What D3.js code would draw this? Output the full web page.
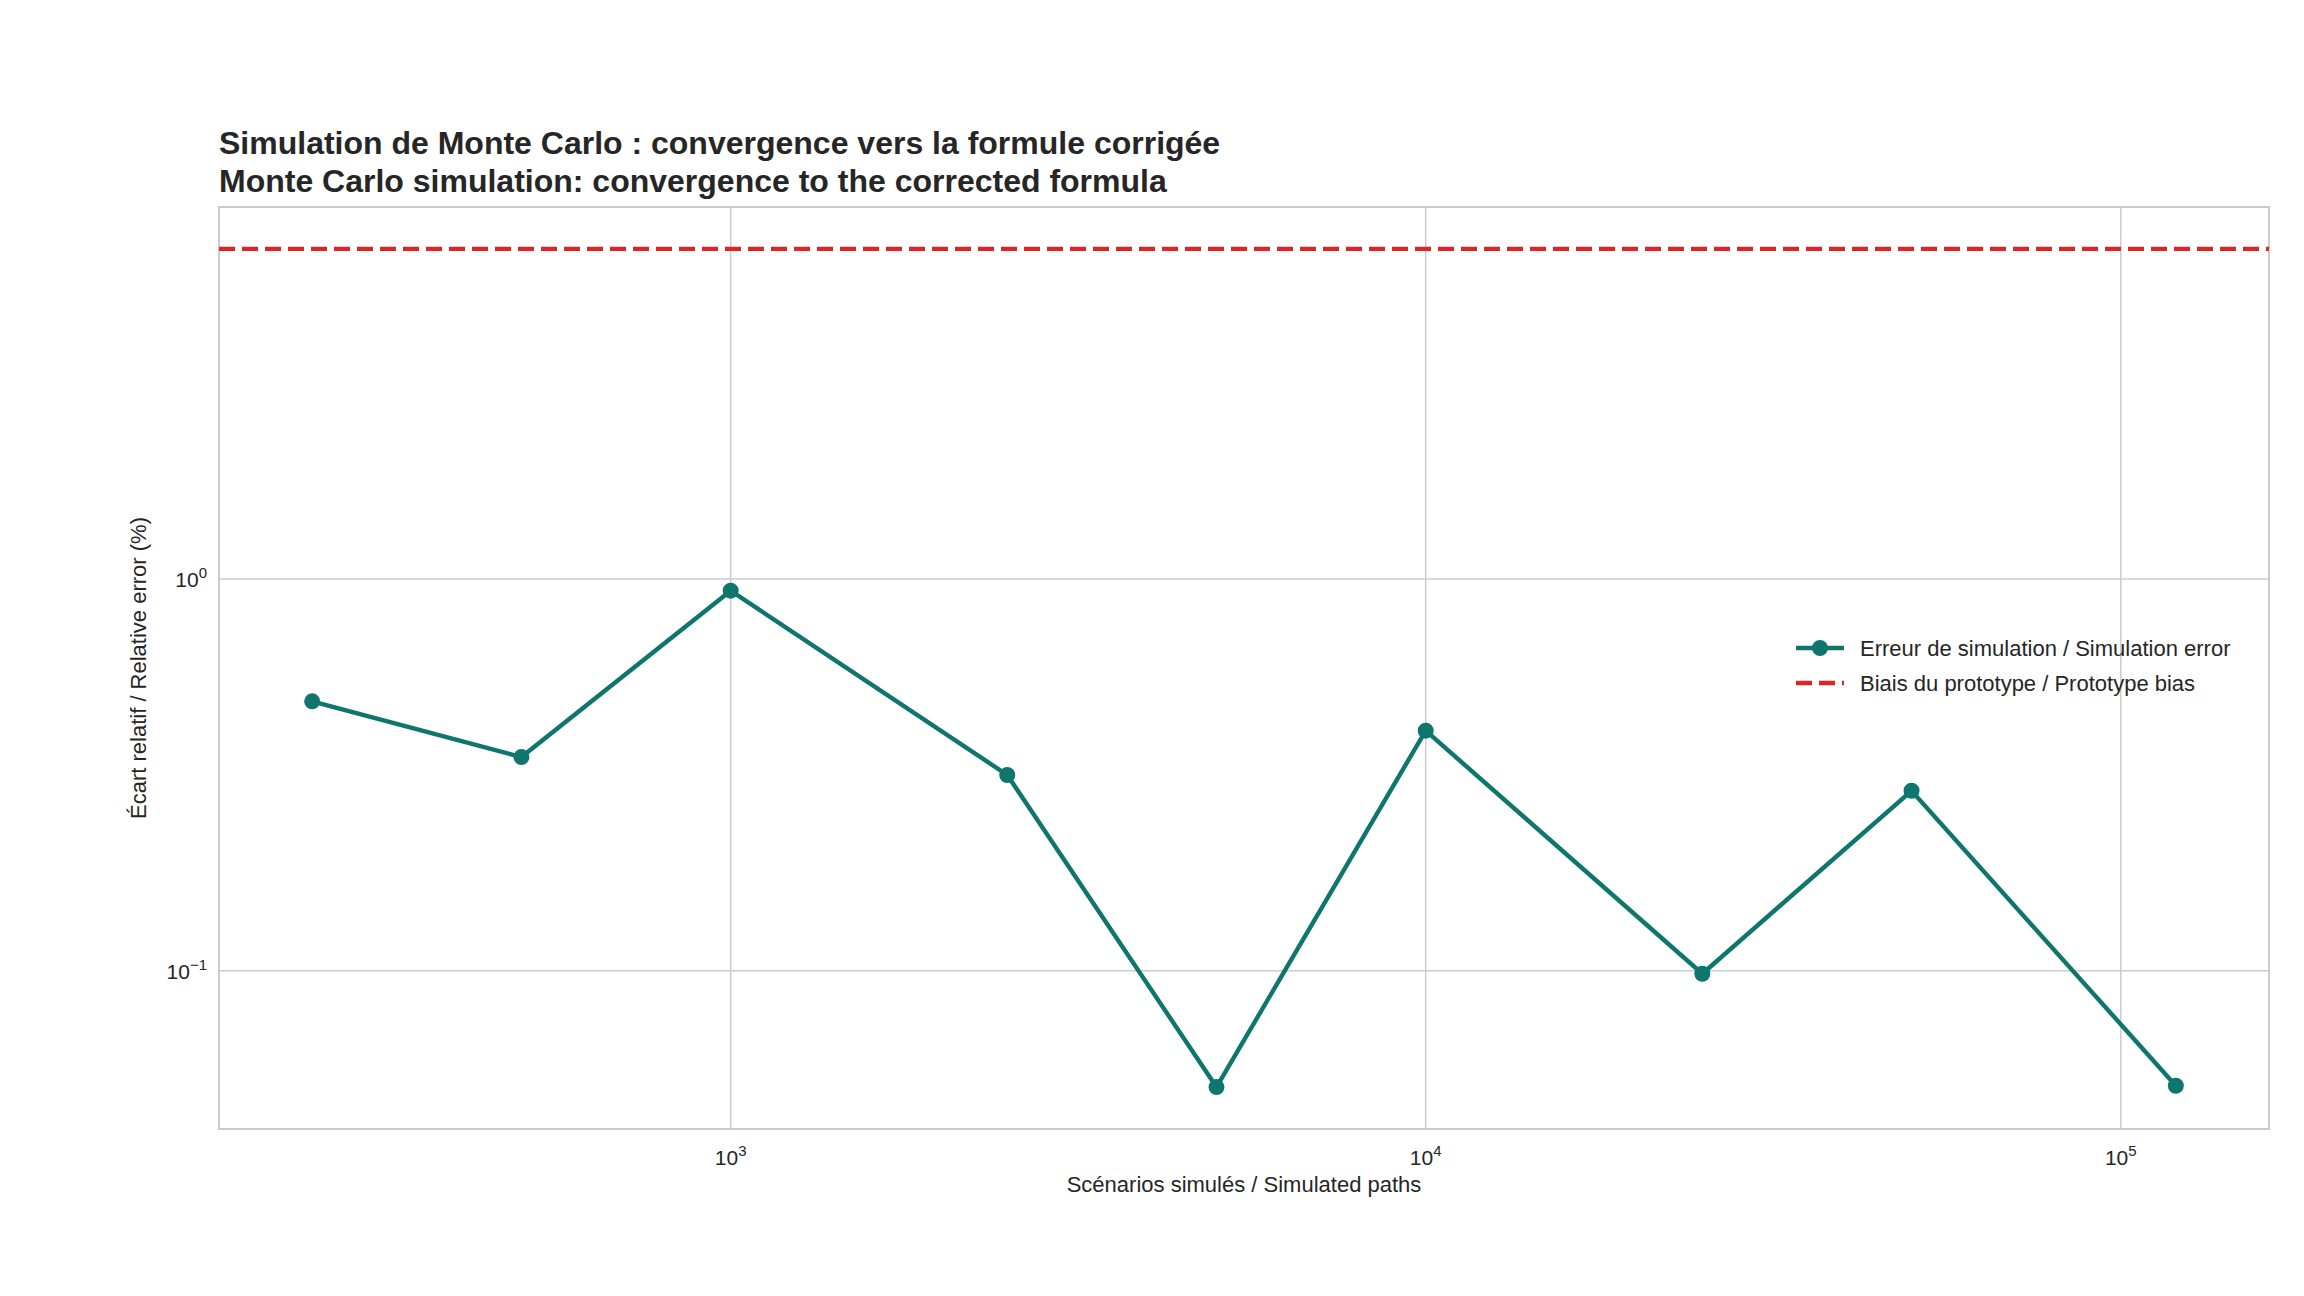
<!DOCTYPE html>
<html>
<head>
<meta charset="utf-8">
<script src="https://cdn.jsdelivr.net/npm/d3@7"></script>
<style>
  body { margin: 0; background: #fff; }
  text { font-family: "Liberation Sans", Arial, sans-serif; fill: #262626; }
</style>
</head>
<body>
<div id="chart"></div>
<script>
// data
var paths = [250, 500, 1000, 2500, 5000, 10000, 25000, 50000, 120000];
var simError = [0.487, 0.351, 0.933, 0.316, 0.0505, 0.410, 0.0983, 0.288, 0.0509];
var prototypeBias = 6.95;
var xTicks = [1e3, 1e4, 1e5];
var yTicks = [1e-1, 1e0];
var legendLabels = ["Erreur de simulation / Simulation error", "Biais du prototype / Prototype bias"];

var W = 2304, H = 1296;
var margin = {top: 207, right: 35, bottom: 167, left: 219};
var width = W - margin.left - margin.right,
    height = H - margin.top - margin.bottom;
var teal = "#0f766e", red = "#dc2626";

var svg = d3.select("#chart").append("svg")
    .attr("width", W).attr("height", H);
var g = svg.append("g")
    .attr("transform", "translate(" + margin.left + "," + margin.top + ")");

// log scales with 5% padding like matplotlib
var lx = d3.extent(paths).map(Math.log10), px = (lx[1] - lx[0]) * 0.05;
var xScale = d3.scaleLog()
    .domain([Math.pow(10, lx[0] - px), Math.pow(10, lx[1] + px)])
    .range([0, width]);
var ly = d3.extent(simError.concat([prototypeBias])).map(Math.log10), py = (ly[1] - ly[0]) * 0.05;
var yScale = d3.scaleLog()
    .domain([Math.pow(10, ly[0] - py), Math.pow(10, ly[1] + py)])
    .range([height, 0]);

//grid
g.selectAll(".gx").data(xTicks).enter().append("line")
    .attr("x1", d => xScale(d)).attr("x2", d => xScale(d))
    .attr("y1", 0).attr("y2", height)
    .attr("stroke", "#cccccc").attr("stroke-width", 1.5);
g.selectAll(".gy").data(yTicks).enter().append("line")
    .attr("y1", d => yScale(d)).attr("y2", d => yScale(d))
    .attr("x1", 0).attr("x2", width)
    .attr("stroke", "#cccccc").attr("stroke-width", 1.5);

// frame
g.append("rect").attr("width", width).attr("height", height)
    .attr("fill", "none").attr("stroke", "#cccccc").attr("stroke-width", 2);

// tick labels with superscript exponents
function pow10(sel, d) {
    var e = Math.round(Math.log10(d));
    sel.append("tspan").text("10");
    sel.append("tspan").attr("dy", -9).attr("font-size", 15)
        .text(e < 0 ? "\u2212" + (-e) : e);
}
g.selectAll(".tx").data(xTicks).enter().append("text")
    .attr("x", d => xScale(d)).attr("y", height + 36)
    .attr("text-anchor", "middle").attr("font-size", 21)
    .each(function (d) { pow10(d3.select(this), d); });
g.selectAll(".ty").data(yTicks).enter().append("text")
    .attr("x", -12).attr("y", d => yScale(d) + 8)
    .attr("text-anchor", "end").attr("font-size", 21)
    .each(function (d) { pow10(d3.select(this), d); });

// bias line
g.append("line")
    .attr("x1", 0).attr("x2", width)
    .attr("y1", yScale(prototypeBias)).attr("y2", yScale(prototypeBias))
    .attr("stroke", red).attr("stroke-width", 4.4)
    .attr("stroke-dasharray", "16,7");

// error line
var line = d3.line().x((d, i) => xScale(paths[i])).y(d => yScale(d));
g.append("path").datum(simError)
    .attr("d", line).attr("fill", "none")
    .attr("stroke", teal).attr("stroke-width", 4.4);
g.selectAll(".pt").data(simError).enter().append("circle")
    .attr("cx", (d, i) => xScale(paths[i])).attr("cy", d => yScale(d))
    .attr("r", 8).attr("fill", teal);

// titles
svg.append("text").attr("x", margin.left).attr("y", 154)
    .attr("font-size", 32).attr("font-weight", "bold")
    .text("Simulation de Monte Carlo : convergence vers la formule corrigée");
svg.append("text").attr("x", margin.left).attr("y", 192)
    .attr("font-size", 32).attr("font-weight", "bold")
    .text("Monte Carlo simulation: convergence to the corrected formula");
svg.append("text").attr("x", margin.left + width / 2).attr("y", 1192)
    .attr("text-anchor", "middle").attr("font-size", 22)
    .text("Scénarios simulés / Simulated paths");
svg.append("text")
    .attr("transform", "translate(146," + (margin.top + height / 2) + ") rotate(-90)")
    .attr("text-anchor", "middle").attr("font-size", 22)
    .text("Écart relatif / Relative error (%)");

// legend
var leg = svg.append("g").attr("transform", "translate(1796,648)");
leg.append("line").attr("x1", 0).attr("x2", 48).attr("y1", 0).attr("y2", 0)
    .attr("stroke", teal).attr("stroke-width", 4.4);
leg.append("circle").attr("cx", 24).attr("cy", 0).attr("r", 8).attr("fill", teal);
leg.append("line").attr("x1", 0).attr("x2", 48).attr("y1", 35).attr("y2", 35)
    .attr("stroke", red).attr("stroke-width", 4.4).attr("stroke-dasharray", "16,7");
leg.selectAll(".lt").data(legendLabels).enter().append("text")
    .attr("x", 64).attr("y", (d, i) => i * 35 + 8)
    .attr("font-size", 22).text(d => d);
</script>
</body>
</html>
